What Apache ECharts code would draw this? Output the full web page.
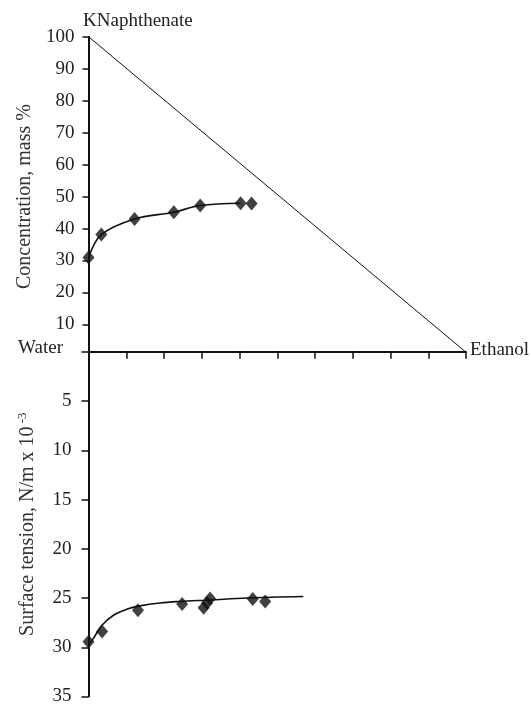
<!DOCTYPE html>
<html>
<head>
<meta charset="utf-8">
<script src="https://cdn.jsdelivr.net/npm/echarts@6/dist/echarts.min.js"></script>
<style>
html,body{margin:0;padding:0;background:#fff;}
#c{width:531px;height:706px;}
</style>
</head>
<body>
<div id="c"></div>
<script>
// Top panel: concentration (mass %) vs ethanol share
const concPoints = [[0,30.9],[3.4,38.1],[12.2,43.0],[22.6,45.1],[29.6,47.2],[40.3,47.9],[43.2,47.8]];
const concCurve  = [[0,30.9],[3.4,38.1],[12.2,43.0],[22.6,45.1],[29.6,47.2],[40.3,47.9]];
const diagonal   = [[0,100],[100,1.3]];
// Bottom panel: surface tension
const stPoints = [[0,29.45],[3.6,28.4],[13.1,26.25],[24.8,25.6],[30.5,26.0],[31.4,25.5],[32.2,25.05],[43.5,25.1],[46.8,25.35]];
const stCurve  = [[0,29.8],[1.3,29.1],[3.5,27.8],[6.6,26.75],[10.1,26.15],[13.6,25.8],[18.9,25.5],[24.2,25.35],[32.2,25.2],[41.9,25.0],[56.9,24.85]];
const concTicks = [10,20,30,40,50,60,70,80,90,100];
const stTicks = [5,10,15,20,25,30,35];

const FONT = 'Liberation Serif';
const INK = '#111';
const chart = echarts.init(document.getElementById('c'), null, {renderer:'canvas'});
chart.setOption({
  animation:false,
  backgroundColor:'#fff',
  grid:[
    {left:88.5, right:65, top:36.7, height:319.7},
    {left:88.5, right:65, top:351.8, height:346.5}
  ],
  xAxis:[
    {gridIndex:0, type:'value', min:0, max:100, interval:10, show:false},
    {gridIndex:1, type:'value', min:0, max:100, interval:10, position:'top',
     axisLine:{show:true, onZero:false, lineStyle:{color:INK, width:2}},
     axisTick:{show:true, inside:true, length:7, lineStyle:{color:INK, width:1.5}},
     axisLabel:{show:false}, splitLine:{show:false}}
  ],
  yAxis:[
    {gridIndex:0, type:'value', min:0, max:100, interval:10,
     name:'Concentration, mass %', nameLocation:'middle', nameGap:51,
     nameTextStyle:{fontFamily:FONT, fontSize:20, color:'#333'},
     axisLine:{show:true, onZero:false, lineStyle:{color:INK, width:2}},
     axisTick:{show:true, length:6, customValues:concTicks, lineStyle:{color:INK, width:1.5}},
     axisLabel:{customValues:concTicks, margin:14, fontFamily:FONT, fontSize:19, color:'#222'},
     splitLine:{show:false}},
    {gridIndex:1, type:'value', min:0, max:35, interval:5, inverse:true,
     name:'Surface tension, N/m x 10{sup| -3}', nameLocation:'middle', nameGap:49,
     nameTextStyle:{fontFamily:FONT, fontSize:20, color:'#333',
       rich:{sup:{fontFamily:FONT, fontSize:13, color:'#333', verticalAlign:'top', padding:[0,0,10,0]}}},
     axisLine:{show:true, onZero:false, lineStyle:{color:INK, width:2}},
     axisTick:{show:true, length:7, lineStyle:{color:INK, width:1.5}},
     axisLabel:{customValues:stTicks, margin:17, fontFamily:FONT, fontSize:19, color:'#222'},
     splitLine:{show:false}}
  ],
  series:[
    {type:'line', xAxisIndex:0, yAxisIndex:0, data:diagonal, showSymbol:false,
     lineStyle:{color:INK, width:1}, silent:true},
    {type:'line', xAxisIndex:0, yAxisIndex:0, data:concCurve, showSymbol:false, smooth:0.35,
     lineStyle:{color:INK, width:1.6}},
    {type:'scatter', xAxisIndex:0, yAxisIndex:0, data:concPoints, symbol:'diamond', symbolSize:[12,14],
     itemStyle:{color:INK}},
    {type:'line', xAxisIndex:1, yAxisIndex:1, data:stCurve, showSymbol:false, smooth:0.35,
     lineStyle:{color:INK, width:1.6}},
    {type:'scatter', xAxisIndex:1, yAxisIndex:1, data:stPoints, symbol:'diamond', symbolSize:[12,14],
     itemStyle:{color:INK}}
  ],
  graphic:[
    {type:'text', left:83, top:12, style:{text:'KNaphthenate', font:'19px "Liberation Serif"', fill:'#222'}},
    {type:'text', right:468, top:339, style:{text:'Water', font:'19px "Liberation Serif"', fill:'#222'}},
    {type:'text', left:470, top:341, style:{text:'Ethanol', font:'19px "Liberation Serif"', fill:'#222'}}
  ]
});
</script>
</body>
</html>
